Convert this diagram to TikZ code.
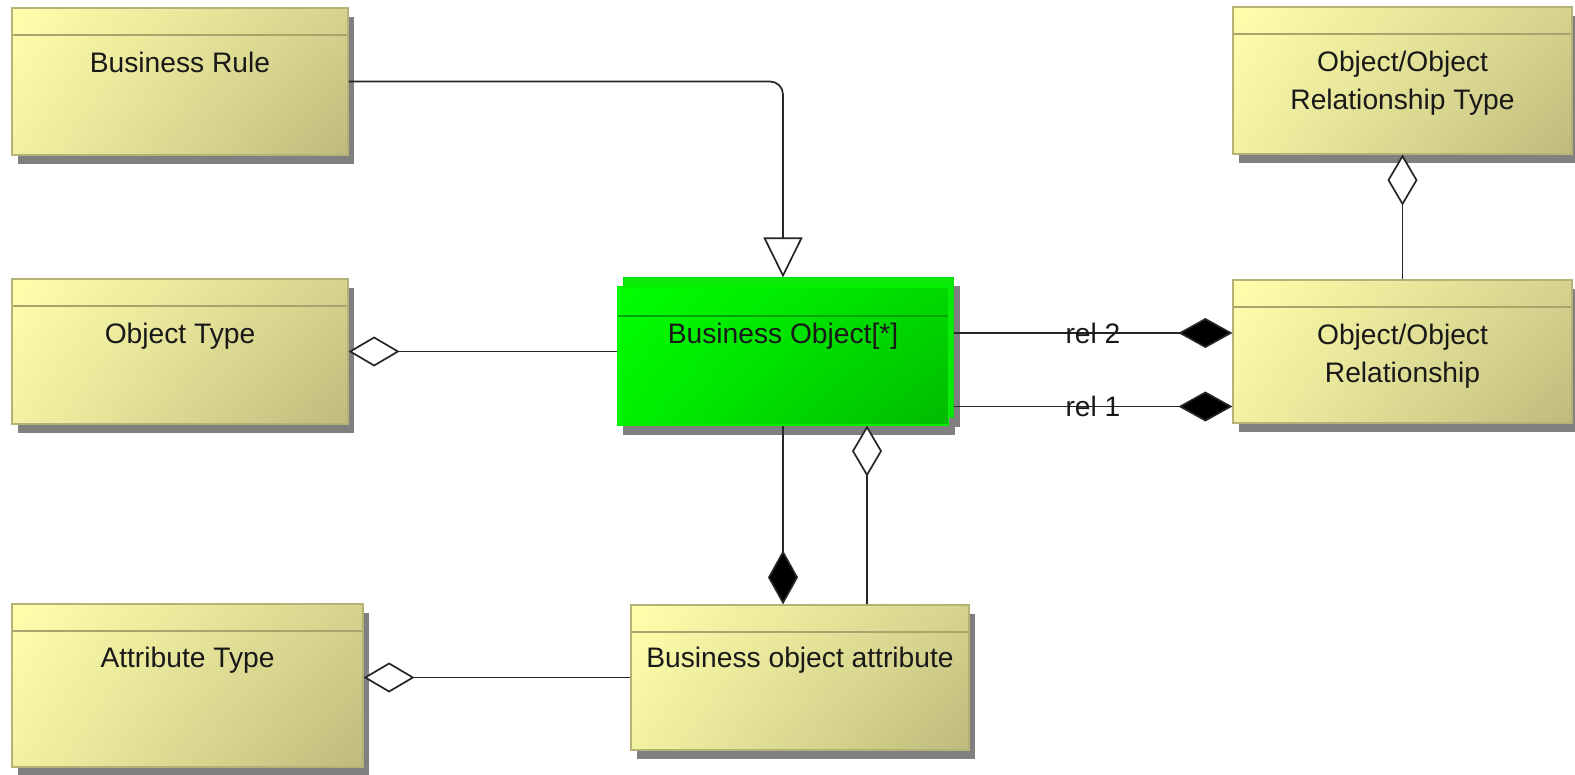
\documentclass[tikz,border=0pt]{standalone}
\usepackage{fontspec}
\setmainfont{Liberation Sans}
\usepackage{xcolor}
\usetikzlibrary{positioning, shapes, arrows.meta, shadows, shadings, backgrounds}

\definecolor{classlight}{RGB}{255,255,172}
\definecolor{classdark}{RGB}{190,187,124}
\definecolor{classedge}{RGB}{180,178,118}
\definecolor{classline}{RGB}{168,165,108}
\definecolor{objlight}{RGB}{0,255,0}
\definecolor{objdark}{RGB}{0,186,0}
\definecolor{objback}{RGB}{10,235,10}
\definecolor{objline}{RGB}{0,165,0}
\definecolor{shadowgrey}{RGB}{128,128,128}
\definecolor{textdark}{RGB}{25,25,25}

\tikzset{
  classbox/.style={rectangle, draw=classedge, line width=0.6pt,
    upper left=classlight, lower right=classdark,
    upper right=classlight!35!classdark, lower left=classlight!80!classdark,
    drop shadow={shadow xshift=3pt, shadow yshift=-4.5pt, fill=shadowgrey, opacity=1},
    path picture={\draw[classline, line width=0.8pt]
      ([yshift=-13.5pt]path picture bounding box.north west) --
      ([yshift=-13.5pt]path picture bounding box.north east);}},
  objbox/.style={rectangle, draw=objlight!80!objdark, line width=0.6pt,
    upper left=objlight, lower right=objdark,
    upper right=objlight!45!objdark, lower left=objlight!80!objdark,
    path picture={\draw[objline, line width=0.6pt]
      ([yshift=-14.5pt]path picture bounding box.north west) --
      ([yshift=-14.5pt]path picture bounding box.north east);}},
  objback/.style={rectangle, draw=objback!90!black, line width=0.5pt, fill=objback},
  classname/.style={anchor=north, inner sep=0pt, align=center, text=textdark,
    font=\fontsize{14.1}{19}\selectfont},
  rellabel/.style={inner sep=0pt, text=textdark, font=\fontsize{14.1}{19}\selectfont},
  conn/.style={draw=black!85, line width=0.85pt},
  gen/.style={conn, rounded corners=6.5pt, -{Triangle[length=20pt, width=19.5pt, fill=white]}},
  agg/.style={conn, -{Diamond[length=25.5pt, width=15pt, fill=white]}},
  comp/.style={conn, -{Diamond[length=27pt, width=15pt, fill=black]}}
}

\begin{document}
\begin{tikzpicture}[x=0.5pt, y=-0.5pt]
  \useasboundingbox (0,0) rectangle (1575,775);

  % left column
  \node[classbox, minimum width=168pt, minimum height=73.5pt] (rule) at (180,81.5) {};
  \node[classname] at ([yshift=-22pt]rule.north) {Business Rule};
  \node[classbox, minimum width=168pt, minimum height=72.5pt] (otype) at (180,351.5) {};
  \node[classname] at ([yshift=-22pt]otype.north) {Object Type};
  \node[classbox, minimum width=175.5pt, minimum height=81.5pt] (atype) at (187.5,685.5) {};
  \node[classname] at ([yshift=-21.5pt]atype.north) {Attribute Type};

  % business object, two layers
  \node[objback, minimum width=165pt, minimum height=69.5pt] (boback) at (788,347.5) {};
  \node[objbox, minimum width=165.5pt, minimum height=69pt] (bo) at (783,356) {};
  \node[classname] at ([yshift=-18pt]bo.north) {Business Object[*]};
  \begin{scope}[on background layer]
    \fill[shadowgrey] ([shift={(3pt,-4.5pt)}]boback.south west) rectangle ([shift={(3pt,-4.5pt)}]boback.north east);
    \fill[shadowgrey] ([shift={(3pt,-4.5pt)}]bo.south west) rectangle ([shift={(3pt,-4.5pt)}]bo.north east);
  \end{scope}

  \node[classbox, minimum width=169pt, minimum height=72.5pt] (boa) at (800,677.5) {};
  \node[classname] at ([yshift=-21pt]boa.north) {Business object attribute};

  % right column
  \node[classbox, minimum width=169.5pt, minimum height=73.5pt] (ortype) at (1402.5,80.5) {};
  \node[classname] at ([yshift=-22pt]ortype.north) {Object/Object\\Relationship Type};
  \node[classbox, minimum width=169.5pt, minimum height=71.5pt] (orel) at (1402.5,351.5) {};
  \node[classname] at ([yshift=-22pt]orel.north) {Object/Object\\Relationship};

  % connectors
  \draw[gen] (rule.east) -| (bo.north |- boback.north); % generalisation
  \draw[agg] (otype.east -| bo.west) -- (otype.east);
  \draw[agg] (boa.west) -- (boa.west -| atype.east);
  \draw[agg] (orel.north) -- (ortype.south);
  \draw[comp] (bo.south) -- (bo.south |- boa.north);
  \coordinate (boagg) at ([xshift=42pt]bo.south);
  \draw[agg] (boagg |- boa.north) -- (boagg);

  \coordinate (rel2) at ([yshift=9.25pt]orel.west);
  \coordinate (rel1) at ([yshift=-27.5pt]orel.west);
  \draw[comp] (rel2 -| boback.east) -- node[rellabel] {rel 2} (rel2);
  \draw[comp] (rel1 -| boback.east) -- node[rellabel] {rel 1} (rel1);
\end{tikzpicture}
\end{document}
